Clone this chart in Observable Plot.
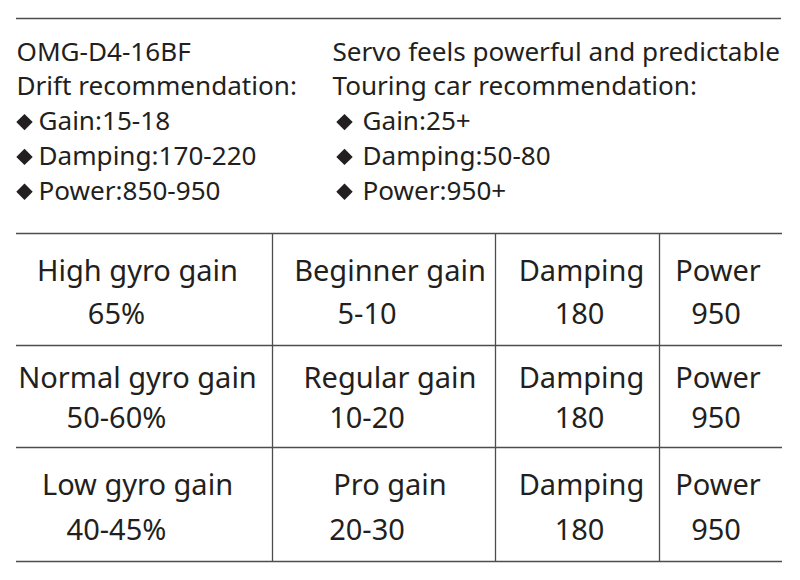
<!DOCTYPE html>
<html>
<head>
<meta charset="utf-8">
<script src="https://cdn.jsdelivr.net/npm/d3@7"></script>
<script src="https://cdn.jsdelivr.net/npm/@observablehq/plot@0.6"></script>
<style>
  html, body { margin: 0; padding: 0; background: #ffffff; }
  #chart { width: 800px; height: 580px; }
</style>
</head>
<body>
<div id="chart"></div>
<script>
// ---------- data ----------
const driftHeader = ["OMG-D4-16BF", "Drift recommendation:"];
const driftItems = ["Gain:15-18", "Damping:170-220", "Power:850-950"];
const touringHeader = ["Servo feels powerful and predictable", "Touring car recommendation:"];
const touringItems = ["Gain:25+", "Damping:50-80", "Power:950+"];

const gyroLabels = ["High gyro gain", "Normal gyro gain", "Low gyro gain"];
const gyroValues = ["65%", "50-60%", "40-45%"];
const gainLabels = ["Beginner gain", "Regular gain", "Pro gain"];
const gainValues = ["5-10", "10-20", "20-30"];
const dampingLabels = ["Damping", "Damping", "Damping"];
const dampingValues = [180, 180, 180];
const powerLabels = ["Power", "Power", "Power"];
const powerValues = [950, 950, 950];

// ---------- layout ----------
const INK = "#231f20";
const LINE = "#4d4d4d";
const topLineY = 18;
const blockLeft = [16, 332];          // left edge of each text block
const bulletDx = [8, 12];             // diamond centre offset from block left
const bulletTextDx = [22, 30];        // text offset from block left for bullet items
const firstBaseline = 60, lineStep = 34.8;

const colEdges = [16, 272, 495, 659, 782];
const rowEdges = [233, 345, 447, 561];
const labelShift = [-7, 6, 4, -3];
const valueShift = [-28, -17, 2, -5];

// header text rows
const headerRows = [];
const bulletRows = [];
[[driftHeader, driftItems], [touringHeader, touringItems]].forEach(([head, items], b) => {
  head.forEach((t, i) => headerRows.push({text: t, x: blockLeft[b], y: firstBaseline + i * lineStep}));
  items.forEach((t, i) => {
    const y = firstBaseline + (head.length + i) * lineStep;
    bulletRows.push({text: t, x: blockLeft[b] + bulletTextDx[b], bx: blockLeft[b] + bulletDx[b], y});
  });
});

// table cells
const columns = [
  [gyroLabels, gyroValues],
  [gainLabels, gainValues],
  [dampingLabels, dampingValues],
  [powerLabels, powerValues]
];
const cells = [];
columns.forEach(([labels, values], c) => {
  const cx = (colEdges[c] + colEdges[c + 1]) / 2;
  labels.forEach((lab, r) => {
    const top = rowEdges[r], h = rowEdges[r + 1] - rowEdges[r];
    cells.push({label: lab, value: String(values[r]),
      lx: cx + labelShift[c], vx: cx + valueShift[c],
      ly: top + 0.42 * h, vy: top + 0.81 * h});
  });
});

const chart = Plot.plot({
  width: 800,
  height: 580,
  margin: 0,
  x: {domain: [0, 800], range: [0, 800], axis: null},
  y: {domain: [0, 580], range: [0, 580], axis: null},
  style: {fontFamily: "'Noto Sans', sans-serif", background: "#ffffff", color: INK},
  marks: [
    Plot.ruleY([topLineY], {y: d => d, x1: 16, x2: 781, stroke: LINE, strokeWidth: 1.6}),
    Plot.text(headerRows, {x: "x", y: "y", text: "text", textAnchor: "start", lineAnchor: "bottom",
      fontSize: 26.1, fill: INK}),
    Plot.dot(bulletRows, {x: "bx", y: d => d.y - 8, symbol: "diamond2", r: 7.4, fill: INK, stroke: null}),
    Plot.text(bulletRows, {x: "x", y: "y", text: "text", textAnchor: "start", lineAnchor: "bottom",
      fontSize: 26.1, fill: INK}),
    Plot.ruleY(rowEdges, {y: d => d, x1: colEdges[0], x2: colEdges[colEdges.length - 1], stroke: LINE, strokeWidth: 1.6}),
    Plot.ruleX(colEdges.slice(1, -1), {x: d => d, y1: rowEdges[0], y2: rowEdges[rowEdges.length - 1], stroke: LINE, strokeWidth: 1.3}),
    Plot.text(cells, {x: "lx", y: "ly", text: "label", textAnchor: "middle", lineAnchor: "bottom",
      fontSize: 29, fill: INK}),
    Plot.text(cells, {x: "vx", y: "vy", text: "value", textAnchor: "middle", lineAnchor: "bottom",
      fontSize: 29, fill: INK})
  ]
});
document.getElementById("chart").appendChild(chart);
</script>
</body>
</html>
